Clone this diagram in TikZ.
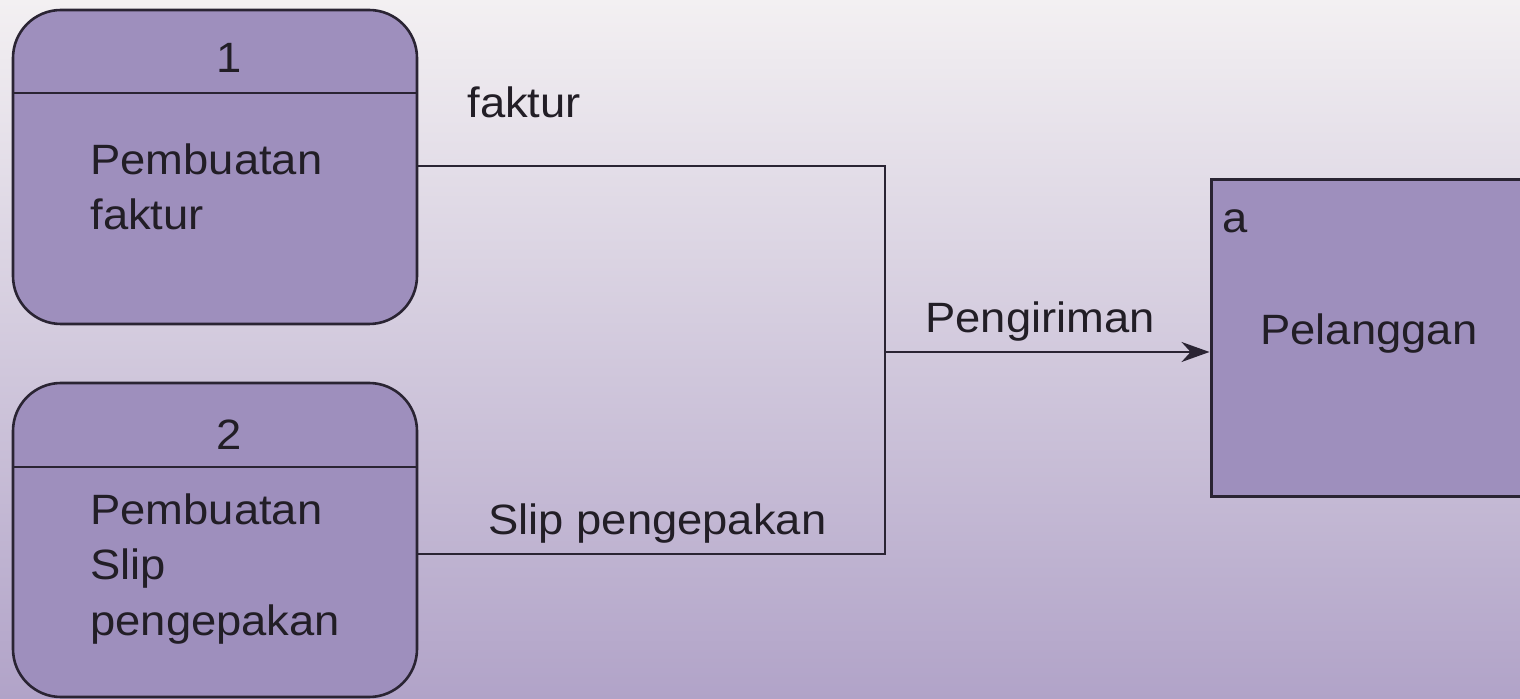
\documentclass[tikz,border=0pt]{standalone}
\usepackage{fontspec}
\setmainfont{Liberation Sans}[FakeStretch=1.07]
\usetikzlibrary{arrows.meta}
\definecolor{bgtop}{HTML}{F3F0F2}
\definecolor{bgmid}{HTML}{D7CBDD}
\definecolor{bgbot}{HTML}{B1A3C8}
\definecolor{boxfill}{HTML}{9E8FBD}
\definecolor{ink}{HTML}{2A2433}
\definecolor{txt}{HTML}{221E26}
\tikzset{
  procbox/.style={draw=ink, line width=1.3pt, fill=boxfill, rounded corners=24pt, minimum width=202pt, minimum height=157pt, inner sep=0pt},
  entbox/.style={draw=ink, line width=1.5pt, fill=boxfill, minimum width=170pt, minimum height=158.5pt, inner sep=0pt},
  lbl/.style={anchor=base west, inner sep=0pt, text=txt, font=\fontsize{21.2}{27.5}\selectfont},
  num/.style={anchor=base, inner sep=0pt, text=txt, font=\fontsize{21.2}{27.5}\selectfont},
  flow/.style={draw=ink, line width=1.1pt},
}
\begin{document}
\begin{tikzpicture}[x=0.5pt,y=-0.5pt]
\useasboundingbox (0,0) rectangle (1520,699);
\clip (0,0) rectangle (1520,699);
\shade[top color=bgtop, middle color=bgmid, bottom color=bgbot] (0,0) rectangle (1520,699);

% process 1
\node[procbox] (p1) at (215,167) {};
\draw[ink, line width=1.3pt] (13,93) coordinate (d1a) -- (417,93) coordinate (d1b);
\node[num] (n1) at (229,73) {1};
\node[lbl] (t1a) at (90,175) {Pembuatan};
\node[lbl] (t1b) at (90,230) {faktur};

% process 2
\node[procbox] (p2) at (215,540) {};
\draw[ink, line width=1.3pt] (13,467) coordinate (d2a) -- (417,467) coordinate (d2b);
\node[num] (n2) at (229,450) {2};
\node[lbl] (t2a) at (90,525) {Pembuatan};
\node[lbl] (t2b) at (90,580) {Slip};
\node[lbl] (t2c) at (90,635) {pengepakan};

% external entity
\node[entbox] (ea) at (1381,338.5) {};
\node[lbl] (ta) at (1222,233) {a};
\node[lbl] (tb) at (1260,345) {Pelanggan};

% connectors
\coordinate (j1) at (885,166);
\coordinate (j2) at (885,554);
\coordinate (ja) at (885,352);
\draw[flow] (p1.east |- j1) -- (j1) -- (j2) -- (p2.east |- j2);
\draw[flow, -{Stealth[length=14pt,width=10pt]}] (ja) -- (ea.west |- ja);

% flow labels
\node[lbl] (lf) at (467,118) {faktur};
\node[lbl] (lp) at (925,333) {Pengiriman};
\node[lbl] (ls) at (488,535) {Slip pengepakan};
\end{tikzpicture}
\end{document}
